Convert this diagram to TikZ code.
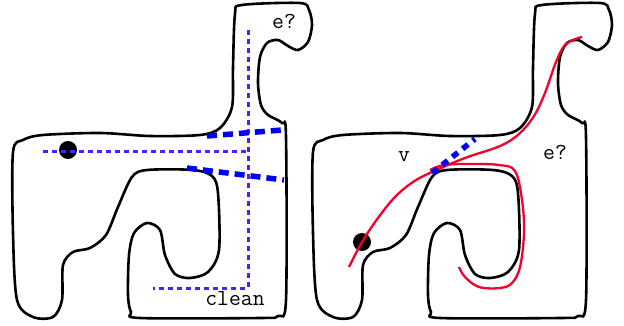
\documentclass[tikz,border=0pt]{standalone}
\definecolor{cutblue}{RGB}{0,0,250}
\definecolor{scanblue}{RGB}{80,30,255}
\definecolor{walkred}{RGB}{245,0,45}
\tikzset{
  blob/.style={line width=2.6pt, black},
  scanline/.style={scanblue, line width=3pt, dash pattern=on 5pt off 4pt},
  cutline/.style={cutblue, line width=5.5pt, dash pattern=on 10pt off 6pt},
  walk/.style={walkred, line width=2.3pt},
  dot/.style={circle, fill=black, minimum size=18pt, inner sep=0pt},
  lbl/.style={font=\ttfamily\fontsize{23}{26}\selectfont, inner sep=0pt}
}
% outline of the shape, shifted by #1
\newcommand{\drawblob}[1]{%
  \draw[blob, xshift=#1] plot[smooth cycle, tension=0.5] coordinates {
    (242,5) (300,3) (309,10) (312,25) (308,42) (298,50) (288,46) (278,40)
    (267,43) (260,57) (258,83) (261,105) (268,115) (282,123) (286,137)
    (286,300) (278,316) (260,318) (140,318) (131,312) (128,295) (129,255)
    (134,233) (147,223) (160,230) (165,255) (175,274) (190,278) (208,272)
    (219,250) (218,193) (212,176) (193,170) (147,170) (132,177) (118,207)
    (106,235) (90,248) (73,252) (63,265) (62,300) (53,317) (33,317) (17,300)
    (13,233) (13,152) (23,140) (43,135) (100,133) (150,136) (200,135)
    (220,128) (232,107) (233,67) (235,14)};}
\begin{document}
\begin{tikzpicture}[x=1pt, y=-1pt]
  \useasboundingbox (0,0) rectangle (624,326);
  % left shape
  \drawblob{0pt}
  \node[dot] (srcL) at (68,150) {};
  \coordinate (scanW) at (43,152);
  \coordinate (scanE) at (247,152);
  \coordinate (scanN) at (248,30);
  \coordinate (scanS) at (248,288);
  \coordinate (scanSW) at (153,288);
  \draw[scanline] (scanW) -- (scanE);
  \draw[scanline] (scanN) -- (scanS) -- (scanSW);
  % cuts
  \coordinate (cutAa) at (207,136);
  \coordinate (cutAb) at (282,130);
  \coordinate (cutBa) at (187,168);
  \coordinate (cutBb) at (284,180);
  \draw[cutline] (cutAa) -- (cutAb);
  \draw[cutline] (cutBa) -- (cutBb);
  \node[lbl] (eL) at (284,21) {e?};
  \node[lbl] (clean) at (235,299) {clean};
  % right shape
  \drawblob{300pt}
  \node[dot] (srcR) at (362,242) {};
  \draw[walk] plot[smooth, tension=0.6] coordinates {
    (349,267) (362,242) (378,218) (395,197) (413,182) (432,172) (465,158)
    (500,146) (519,134) (534,116) (545,93) (556,62) (566,44) (582,37)};
  \draw[walk] plot[smooth, tension=0.6] coordinates {
    (430,170) (444,165) (470,164) (499,165) (515,171) (522,200) (524,233)
    (520,267) (512,283) (500,288) (479,287) (465,277) (459,267)};
  \coordinate (cutCa) at (432,173);
  \coordinate (cutCb) at (475,139);
  \draw[cutline, dash pattern=on 7pt off 6pt] (cutCa) -- (cutCb);
  \node[lbl] (v) at (404,157) {v};
  \node[lbl] (eR) at (555,152) {e?};
\end{tikzpicture}
\end{document}
